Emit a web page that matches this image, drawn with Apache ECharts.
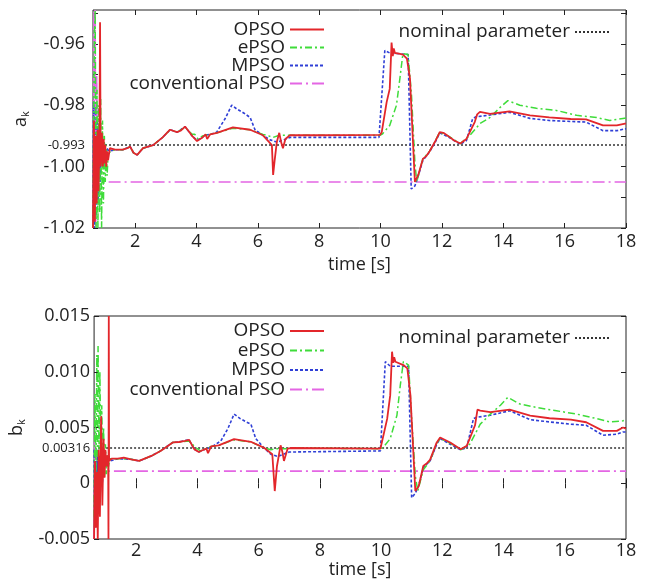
<!DOCTYPE html>
<html><head><meta charset="utf-8">
<script src="https://cdn.jsdelivr.net/npm/echarts@6/dist/echarts.min.js"></script>
<style>html,body{margin:0;padding:0;background:#fff;}#c{width:647px;height:582px;}</style>
</head><body><div id="c"></div>
<script>
// ---------- DATA ----------
const seriesNames = ['OPSO', 'ePSO', 'MPSO', 'conventional PSO'];
const nominalName = 'nominal parameter';
const nominalA = -0.993;
const nominalB = 0.00316;
const xRange = [0.63, 18];
const xTicks = [2, 4, 6, 8, 10, 12, 14, 16, 18];
const yTicksA = [-1.02, -1.00, -0.993, -0.98, -0.96];
const yLabelsA = ['-1.02', '-1.00', '-0.993', '-0.98', '-0.96'];
const yMinorA = [-1.02, -1.01, -1.00, -0.99, -0.98, -0.97, -0.96, -0.95];
const yTicksB = [-0.005, 0, 0.00316, 0.005, 0.010, 0.015];
const yLabelsB = ['-0.005', '0', '0.00316', '0.005', '0.010', '0.015'];
const yMinorB = [-0.005, 0, 0.005, 0.010, 0.015];
const smallLabels = ['-0.993', '0.00316'];

const opsoA = [[0.63,-1.02],[0.66,-0.985],[0.69,-1.018],[0.72,-0.99],[0.75,-1.012],[0.78,-0.988],[0.81,-1.008],[0.84,-0.99],[0.86,-0.953],[0.88,-1.0],[0.92,-0.989],[0.95,-1.0],[0.98,-0.991],[1.0,-0.999],[1.03,-0.993],[1.06,-1.0],[1.09,-0.995],[1.12,-0.998],[1.18,-0.994],[1.35,-0.9945],[1.6,-0.9945],[1.75,-0.994],[1.84,-0.9935],[1.95,-0.9955],[2.07,-0.9962],[2.26,-0.994],[2.59,-0.993],[2.9,-0.9905],[3.14,-0.988],[3.37,-0.9888],[3.5,-0.9882],[3.63,-0.987],[3.75,-0.9885],[3.86,-0.990],[4.02,-0.9917],[4.2,-0.9905],[4.3,-0.9895],[4.35,-0.991],[4.45,-0.9895],[4.67,-0.989],[5.19,-0.9872],[5.75,-0.988],[6.17,-0.9898],[6.46,-0.993],[6.5,-1.0027],[6.55,-0.998],[6.62,-0.992],[6.7,-0.989],[6.76,-0.992],[6.82,-0.994],[6.9,-0.991],[7.05,-0.9898],[8,-0.9898],[9.98,-0.9897],[10.04,-0.9888],[10.2,-0.979],[10.3,-0.9747],[10.36,-0.9596],[10.4,-0.964],[10.43,-0.9615],[10.47,-0.963],[10.6,-0.9632],[10.73,-0.9635],[10.86,-0.9648],[10.96,-0.9713],[11.12,-1.005],[11.23,-1.0027],[11.38,-0.9975],[11.5,-0.9965],[11.6,-0.995],[11.77,-0.992],[11.93,-0.9888],[12.05,-0.989],[12.2,-0.990],[12.4,-0.9915],[12.6,-0.9925],[12.8,-0.991],[13.07,-0.9855],[13.15,-0.983],[13.24,-0.9822],[13.57,-0.9828],[14.2,-0.982],[14.87,-0.9833],[15.5,-0.984],[16.2,-0.9845],[16.7,-0.9846],[17.25,-0.9866],[17.7,-0.9866],[17.97,-0.986],[18,-0.986]];
const epsoA = [[0.63,-1.02],[0.67,-0.96],[0.7,-0.949],[0.73,-1.02],[0.76,-0.975],[0.79,-1.02],[0.82,-0.98],[0.85,-1.015],[0.88,-0.978],[0.91,-1.02],[0.94,-0.985],[0.97,-1.012],[1.0,-0.99],[1.03,-1.005],[1.06,-0.993],[1.09,-1.003],[1.12,-0.996],[1.2,-0.995],[1.35,-0.9945],[1.6,-0.9945],[1.84,-0.9935],[1.95,-0.9955],[2.07,-0.9962],[2.26,-0.994],[2.59,-0.993],[2.9,-0.9905],[3.14,-0.988],[3.37,-0.9888],[3.63,-0.9872],[3.86,-0.9895],[3.95,-0.9895],[4.05,-0.991],[4.2,-0.990],[4.45,-0.9895],[4.67,-0.989],[5.19,-0.9875],[5.75,-0.988],[6.17,-0.9895],[6.35,-0.990],[6.5,-0.9905],[6.7,-0.9898],[7.05,-0.9898],[9.98,-0.9898],[10.07,-0.9893],[10.3,-0.9866],[10.52,-0.980],[10.63,-0.9714],[10.73,-0.9632],[10.9,-0.9635],[11.01,-0.9768],[11.12,-0.9986],[11.18,-1.005],[11.23,-1.003],[11.38,-0.9975],[11.6,-0.995],[11.77,-0.992],[11.93,-0.9888],[12.2,-0.990],[12.6,-0.9925],[12.9,-0.990],[13.24,-0.986],[13.57,-0.984],[13.9,-0.9807],[14.15,-0.9785],[14.54,-0.980],[15.08,-0.981],[15.73,-0.9817],[16.39,-0.9833],[17.04,-0.984],[17.47,-0.985],[17.9,-0.9843],[18,-0.9842]];
const mpsoA = [[0.63,-1.02],[0.65,-0.979],[0.68,-1.02],[0.71,-0.981],[0.74,-1.016],[0.77,-0.985],[0.8,-1.012],[0.83,-0.99],[0.86,-1.005],[0.9,-0.992],[0.94,-1.0],[0.98,-0.993],[1.02,-0.998],[1.08,-0.994],[1.15,-0.995],[1.35,-0.9945],[1.6,-0.9945],[1.84,-0.9935],[1.95,-0.9955],[2.07,-0.9962],[2.26,-0.994],[2.59,-0.993],[2.9,-0.9905],[3.14,-0.988],[3.37,-0.9888],[3.63,-0.987],[3.86,-0.990],[4.02,-0.9915],[4.3,-0.9897],[4.45,-0.9895],[4.66,-0.9888],[4.93,-0.9845],[5.15,-0.980],[5.31,-0.9812],[5.45,-0.982],[5.58,-0.9828],[5.75,-0.984],[5.91,-0.988],[6.17,-0.9898],[6.4,-0.9913],[6.62,-0.992],[6.8,-0.9915],[7.05,-0.9905],[9.95,-0.9905],[10.14,-0.9622],[10.3,-0.963],[10.9,-0.9635],[11.0,-1.0073],[11.12,-1.0063],[11.23,-1.003],[11.38,-0.998],[11.6,-0.9952],[11.77,-0.9923],[11.93,-0.989],[12.2,-0.9903],[12.6,-0.9927],[12.8,-0.9915],[13.0,-0.9845],[13.1,-0.9838],[13.57,-0.9832],[14.2,-0.9823],[14.87,-0.9843],[15.5,-0.985],[16.2,-0.9853],[16.7,-0.9855],[17.25,-0.9883],[17.7,-0.9883],[17.97,-0.9877],[18,-0.9877]];
const convA = [[0.64,-1.02],[0.66,-0.949],[0.68,-1.02],[0.7,-0.949],[0.72,-1.02],[0.75,-0.97],[0.78,-1.005],[18,-1.005]];

const opsoB = [[0.63,-0.005],[0.66,0.002],[0.69,-0.004],[0.72,0.001],[0.75,-0.005],[0.78,0.003],[0.82,-0.003],[0.86,0.006],[0.9,-0.002],[0.94,0.004],[0.97,0.0005],[1.0,0.003],[1.03,0.0015],[1.06,0.0025],[1.09,0.0018],[1.1,-0.005],[1.11,0.015],[1.12,0.002],[1.2,0.0022],[1.4,0.0022],[1.6,0.0023],[1.84,0.00215],[2.1,0.002],[2.5,0.00245],[2.8,0.0029],[3.2,0.00366],[3.4,0.0037],[3.6,0.0038],[3.73,0.0039],[3.9,0.00306],[4.05,0.0028],[4.2,0.003],[4.3,0.0031],[4.35,0.0027],[4.45,0.0033],[4.7,0.0034],[5.2,0.00396],[5.75,0.00372],[6.17,0.0032],[6.45,0.0026],[6.53,-0.0007],[6.6,0.0015],[6.72,0.0034],[6.78,0.0028],[6.83,0.002],[6.95,0.0031],[7.05,0.00316],[9.98,0.0031],[10.2,0.00577],[10.3,0.00788],[10.36,0.0118],[10.4,0.0108],[10.43,0.0113],[10.47,0.0109],[10.73,0.0106],[10.86,0.0103],[10.96,0.0079],[11.12,-0.0007],[11.23,-0.00027],[11.38,0.00155],[11.5,0.0018],[11.6,0.0021],[11.82,0.00366],[11.93,0.0041],[12.26,0.00366],[12.6,0.00305],[12.8,0.00335],[13.07,0.0052],[13.15,0.0066],[13.24,0.00652],[13.57,0.00637],[14.2,0.0066],[14.87,0.00607],[15.5,0.00583],[16.2,0.0057],[16.7,0.00547],[17.25,0.0047],[17.7,0.0047],[17.9,0.005],[18,0.0049]];
const epsoB = [[0.63,-0.003],[0.66,0.008],[0.69,0.0],[0.72,0.0115],[0.74,0.002],[0.76,0.0123],[0.79,0.003],[0.82,0.01],[0.85,0.002],[0.88,0.007],[0.91,0.001],[0.94,0.005],[0.97,0.0005],[1.0,0.0035],[1.03,0.0008],[1.06,0.0025],[1.1,0.0015],[1.15,0.0022],[1.4,0.0022],[1.84,0.00215],[2.1,0.002],[2.5,0.00245],[2.8,0.0029],[3.2,0.00366],[3.4,0.0037],[3.73,0.0038],[3.95,0.0032],[4.1,0.0029],[4.45,0.0033],[4.7,0.0034],[5.2,0.0039],[5.75,0.0037],[6.17,0.0032],[6.4,0.003],[6.6,0.0031],[6.9,0.0031],[7.05,0.00316],[9.98,0.0031],[10.07,0.0032],[10.3,0.004],[10.52,0.0061],[10.63,0.0088],[10.73,0.0109],[10.9,0.0106],[11.0,0.0058],[11.12,0.00064],[11.2,-0.0007],[11.38,0.0012],[11.6,0.002],[11.82,0.0036],[11.93,0.004],[12.26,0.0036],[12.6,0.003],[12.9,0.0035],[13.24,0.0053],[13.57,0.0062],[13.9,0.007],[14.14,0.0077],[14.54,0.0071],[15.08,0.0068],[15.73,0.0065],[16.39,0.0062],[17.04,0.0058],[17.47,0.0055],[17.9,0.0056],[18,0.0057]];
const mpsoB = [[0.63,0.003],[0.65,-0.004],[0.68,0.002],[0.71,-0.003],[0.74,0.003],[0.77,-0.002],[0.8,0.0025],[0.83,-0.001],[0.87,0.002],[0.9,0.0],[0.95,0.0025],[1.0,0.0015],[1.05,0.0022],[1.15,0.002],[1.4,0.0022],[1.84,0.00215],[2.1,0.002],[2.5,0.00245],[2.8,0.0029],[3.2,0.00366],[3.4,0.0037],[3.73,0.0039],[3.9,0.00306],[4.05,0.0028],[4.3,0.0031],[4.5,0.0033],[4.77,0.0038],[5.0,0.0049],[5.2,0.0062],[5.4,0.0058],[5.6,0.0055],[5.75,0.0053],[5.91,0.004],[6.17,0.0032],[6.4,0.0026],[6.62,0.0024],[7.0,0.0028],[9.98,0.0029],[10.14,0.0109],[10.3,0.0105],[10.9,0.0105],[11.0,-0.0013],[11.12,-0.0009],[11.23,-0.0002],[11.38,0.0014],[11.6,0.002],[11.82,0.0035],[11.93,0.004],[12.26,0.0035],[12.6,0.003],[12.8,0.0032],[13.02,0.0058],[13.1,0.0059],[13.57,0.0061],[14.2,0.0065],[14.87,0.0057],[15.5,0.0055],[16.2,0.0053],[16.7,0.0052],[17.25,0.0043],[17.7,0.0044],[17.9,0.0046],[18,0.0046]];
const convB = [[0.63,-0.005],[0.65,0.004],[0.67,-0.004],[0.69,0.003],[0.72,-0.003],[0.76,0.00109],[18,0.00109]];

// ---------- STYLE ----------
const FONT = 'Open Sans';
const colors = ['#e3262b', '#3fdc3a', '#2f3fd6', '#e466e4'];
const dashes = ['solid', [7, 3, 2, 3], [3, 2], [12, 4, 2, 4]];
const widths = [1.8, 1.5, 1.6, 1.6];

const chart = echarts.init(document.getElementById('c'), null, {renderer: 'canvas'});

const grids = [
  {left: 93, top: 10, width: 533, height: 218, show: true, borderColor: '#222', borderWidth: 1},
  {left: 93, top: 316, width: 533, height: 223, show: true, borderColor: '#222', borderWidth: 1}
];

function xAxisPair(gi, nameGap, labelMargin) {
  return [
    {type: 'value', gridIndex: gi, min: xRange[0], max: xRange[1], position: 'bottom',
     name: 'time [s]', nameLocation: 'middle', nameGap: nameGap,
     nameTextStyle: {fontFamily: FONT, fontSize: 18, color: '#222'},
     axisLine: {show: false}, splitLine: {show: false},
     axisTick: {inside: true, length: 5, customValues: xTicks, lineStyle: {color: '#222'}},
     axisLabel: {customValues: xTicks, margin: labelMargin, fontFamily: FONT, fontSize: 18, color: '#222'}},
    {type: 'value', gridIndex: gi, min: xRange[0], max: xRange[1], position: 'top',
     axisLine: {show: false}, splitLine: {show: false},
     axisTick: {inside: true, length: 5, customValues: xTicks, lineStyle: {color: '#222'}},
     axisLabel: {show: false}}
  ];
}

function yAxisPair(gi, min, max, ticks, labels, minor, nameRich, nameGap, labelMargin) {
  return [
    {type: 'value', gridIndex: gi, min: min, max: max, position: 'left',
     name: nameRich, nameLocation: 'middle', nameGap: nameGap, nameRotate: 90,
     nameTextStyle: {fontFamily: FONT, color: '#222', rich: {
       m: {fontFamily: FONT, fontSize: 18, color: '#222'},
       s: {fontFamily: FONT, fontSize: 11, color: '#222', verticalAlign: 'bottom', padding: [10, 0, 0, 0]}}},
     axisLine: {show: false}, splitLine: {show: false},
     axisTick: {inside: true, length: 5, customValues: minor, lineStyle: {color: '#222'}},
     axisLabel: {customValues: ticks, margin: labelMargin, color: '#222', fontFamily: FONT,
       formatter: function (v) {
         let i = ticks.findIndex(t => Math.abs(t - v) < 1e-9);
         let s = i >= 0 ? labels[i] : '';
         return smallLabels.indexOf(s) >= 0 ? '{s|' + s + '}' : '{b|' + s + '}';
       },
       rich: {b: {fontFamily: FONT, fontSize: 18, color: '#222'}, s: {fontFamily: FONT, fontSize: 13, color: '#222'}}}},
    {type: 'value', gridIndex: gi, min: min, max: max, position: 'right',
     axisLine: {show: false}, splitLine: {show: false},
     axisTick: {inside: true, length: 5, customValues: minor, lineStyle: {color: '#222'}},
     axisLabel: {show: false}}
  ];
}

const xAxes = [...xAxisPair(0, 28, 5), ...xAxisPair(1, 17, 3)];
const yAxes = [
  ...yAxisPair(0, -1.02, -0.949, yTicksA, yLabelsA, yMinorA, '{m|a}{s|k}', 62, 8),
  ...yAxisPair(1, -0.005, 0.015, yTicksB, yLabelsB, yMinorB, '{m|b}{s|k}', 65, 4)
];

const dataSets = [[opsoA, epsoA, mpsoA, convA], [opsoB, epsoB, mpsoB, convB]];
const nominals = [nominalA, nominalB];
const series = [];
[0, 1].forEach(gi => {
  series.push({name: nominalName, type: 'line', xAxisIndex: gi * 2, yAxisIndex: gi * 2,
    data: [[xRange[0], nominals[gi]], [xRange[1], nominals[gi]]], symbol: 'none', silent: true,
    lineStyle: {color: '#333', width: 1.5, type: [2, 2]}, itemStyle: {color: '#333'}, z: 1});
  for (let k = 3; k >= 0; k--) {
    series.push({name: seriesNames[k], type: 'line', xAxisIndex: gi * 2, yAxisIndex: gi * 2,
      data: dataSets[gi][k], symbol: 'none', silent: true,
      lineStyle: {color: colors[k], width: widths[k], type: dashes[k]},
      itemStyle: {color: colors[k]}, z: 2 + (3 - k)});
  }
});

const legends = [];
const rowsTop = [29.5, 47.5, 65.5, 83.5];
const rowsBot = [331, 350.5, 370, 389.5];
function addLegend(name, right, cy) {
  legends.push({data: [name], orient: 'vertical', align: 'right', right: right, top: cy - 10,
    padding: 0, itemWidth: 34, itemHeight: 12, selectedMode: false,
    itemStyle: {color: 'rgba(0,0,0,0)', borderWidth: 0, opacity: 0},
    textStyle: {fontFamily: FONT, fontSize: 19, color: '#222', lineHeight: 20}});
}
seriesNames.forEach((n, i) => addLegend(n, 322, rowsTop[i]));
seriesNames.forEach((n, i) => addLegend(n, 322, rowsBot[i]));
addLegend(nominalName, 37, 32);
addLegend(nominalName, 37, 338);

chart.setOption({
  animation: false,
  backgroundColor: '#fff',
  grid: grids,
  xAxis: xAxes,
  yAxis: yAxes,
  legend: legends,
  series: series
});
</script></body></html>
